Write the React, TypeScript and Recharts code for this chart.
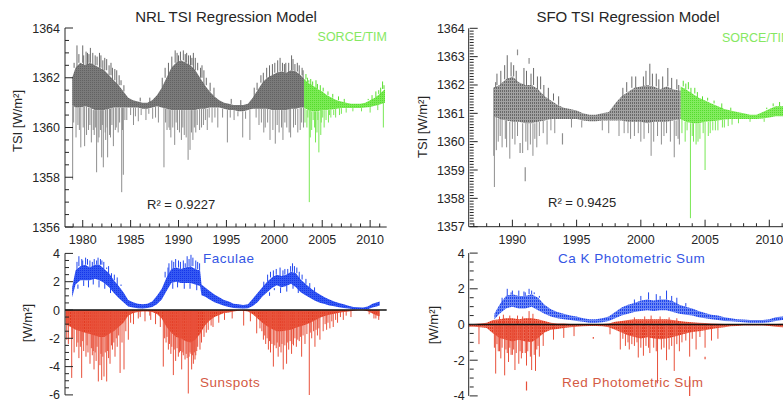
import React from "react";
import { ComposedChart, Area, Line, XAxis, YAxis, ReferenceLine } from "recharts";

const FONT = '"Liberation Sans", Arial, Helvetica, sans-serif';
const INK = "#262626";
const GRAY_UP = "#6a6a6a";
const GRAY_SPK = "#8e8e8e";
const GREEN_UP = "#5ade30";
const GREEN_SPK = "#78e854";
const BLUE = "#2248ee";
const RED_SPK = "#e8503a";

// ---------- NRL TSI regression (top left) ----------
const nrlYears = [1978.9, 1979.25, 1979.75, 1980.25, 1980.75, 1981.25, 1981.75, 1982.25, 1982.75, 1983.25, 1983.75, 1984.25, 1984.75, 1985.25, 1985.75, 1986.25, 1986.75, 1987.25, 1987.75, 1988.25, 1988.75, 1989.25, 1989.75, 1990.25, 1990.75, 1991.25, 1991.75, 1992.25, 1992.75, 1993.25, 1993.75, 1994.25, 1994.75, 1995.25, 1995.75, 1996.25, 1996.75, 1997.25, 1997.75, 1998.25, 1998.75, 1999.25, 1999.75, 2000.25, 2000.75, 2001.25, 2001.75, 2002.25, 2002.75, 2003.1];
const nrlHi = [1362.0, 1362.4, 1362.6, 1362.5, 1362.6, 1362.5, 1362.4, 1362.3, 1362.1, 1361.9, 1361.7, 1361.45, 1361.2, 1361.1, 1361.05, 1361.0, 1361.0, 1361.1, 1361.3, 1361.6, 1362.0, 1362.4, 1362.6, 1362.7, 1362.6, 1362.5, 1362.3, 1362.0, 1361.7, 1361.45, 1361.25, 1361.1, 1361.0, 1360.95, 1360.9, 1360.9, 1360.9, 1360.95, 1361.2, 1361.5, 1361.8, 1362.0, 1362.1, 1362.2, 1362.25, 1362.2, 1362.3, 1362.25, 1362.1, 1361.95];
const nrlLo = [1360.9, 1360.8, 1360.8, 1360.85, 1360.8, 1360.7, 1360.7, 1360.7, 1360.75, 1360.8, 1360.8, 1360.8, 1360.8, 1360.8, 1360.8, 1360.75, 1360.75, 1360.8, 1360.85, 1360.8, 1360.75, 1360.7, 1360.7, 1360.7, 1360.7, 1360.7, 1360.7, 1360.75, 1360.75, 1360.8, 1360.8, 1360.8, 1360.75, 1360.7, 1360.7, 1360.65, 1360.65, 1360.7, 1360.75, 1360.75, 1360.75, 1360.75, 1360.7, 1360.7, 1360.7, 1360.7, 1360.75, 1360.75, 1360.8, 1360.8];
const nrlSpikes = [
  [1978.95, 1357.9], [1979.05, 1360.2], [1979.1, 1362.6], [1979.3, 1359.6], [1979.4, 1363.3], [1979.5, 1360.1], [1979.6, 1362.95], [1979.65, 1359.9], [1979.8, 1359.2], [1980.0, 1363.3], [1980.05, 1360.0], [1980.1, 1362.9], [1980.2, 1359.25], [1980.35, 1363.05], [1980.4, 1359.7], [1980.5, 1363.0], [1980.6, 1359.9], [1980.65, 1362.95], [1980.75, 1360.1], [1980.8, 1363.2], [1980.9, 1359.4], [1981.05, 1363.0], [1981.1, 1359.9], [1981.2, 1359.7], [1981.3, 1362.9], [1981.35, 1360.0], [1981.45, 1358.2], [1981.5, 1362.85], [1981.6, 1359.4], [1981.7, 1359.6], [1981.75, 1363.0], [1981.85, 1359.9], [1981.9, 1362.9], [1981.98, 1358.8], [1982.05, 1360.1], [1982.1, 1362.7], [1982.15, 1358.4], [1982.3, 1362.8], [1982.35, 1359.8], [1982.4, 1359.5], [1982.5, 1362.75], [1982.55, 1360.0], [1982.6, 1358.8], [1982.75, 1362.5], [1982.8, 1359.7], [1982.9, 1359.6], [1982.95, 1362.6], [1983.05, 1360.1], [1983.1, 1362.4], [1983.2, 1359.25], [1983.35, 1362.35], [1983.4, 1359.9], [1983.5, 1360.0], [1983.55, 1362.3], [1983.7, 1359.8], [1983.8, 1362.1], [1983.85, 1360.2], [1984.0, 1361.9], [1984.07, 1357.4], [1984.15, 1359.9], [1984.24, 1358.1], [1984.3, 1361.7], [1984.4, 1360.3], [1984.6, 1360.3],
  [1985.0, 1360.5], [1985.3, 1360.1], [1985.5, 1360.45], [1985.8, 1360.25], [1986.0, 1361.2], [1986.1, 1360.5], [1986.6, 1360.3], [1986.9, 1360.55], [1987.0, 1361.2], [1987.3, 1360.35], [1987.6, 1360.4], [1987.9, 1360.2],
  [1988.3, 1362.0], [1988.48, 1358.4], [1988.6, 1362.4], [1988.65, 1360.2], [1988.8, 1359.9], [1988.95, 1362.6], [1989.0, 1360.0], [1989.1, 1359.9], [1989.2, 1359.6], [1989.3, 1362.85], [1989.4, 1360.0], [1989.6, 1359.3], [1989.65, 1363.1], [1989.75, 1360.2], [1989.85, 1363.0], [1989.9, 1359.9], [1990.0, 1362.9], [1990.1, 1359.8], [1990.2, 1363.05], [1990.3, 1359.5], [1990.45, 1360.0], [1990.5, 1363.1], [1990.6, 1359.7], [1990.7, 1362.95], [1990.8, 1359.6], [1990.85, 1363.0], [1991.0, 1358.7], [1991.05, 1362.9], [1991.2, 1359.1], [1991.25, 1362.9], [1991.35, 1359.8], [1991.4, 1362.8], [1991.5, 1359.5], [1991.55, 1363.0], [1991.65, 1360.0], [1991.75, 1362.8], [1991.8, 1359.8], [1991.95, 1360.1], [1992.0, 1362.6], [1992.2, 1359.9], [1992.3, 1362.4], [1992.4, 1360.0], [1992.45, 1362.5], [1992.6, 1360.1], [1992.65, 1362.3], [1992.8, 1360.3], [1992.9, 1362.0], [1993.0, 1359.9], [1993.2, 1360.4], [1993.3, 1361.8], [1993.5, 1360.2], [1993.7, 1361.6], [1993.8, 1360.4],
  [1994.1, 1360.0], [1994.6, 1360.4], [1995.1, 1359.4], [1995.4, 1360.4], [1995.5, 1361.15], [1995.8, 1360.3], [1996.2, 1360.45], [1996.5, 1361.1], [1996.7, 1359.6], [1997.0, 1360.35], [1997.45, 1359.5],
  [1997.9, 1361.6], [1998.1, 1360.4], [1998.2, 1361.8], [1998.4, 1360.1], [1998.6, 1362.1], [1998.65, 1360.2], [1998.85, 1362.2], [1998.9, 1359.8], [1999.05, 1360.0], [1999.2, 1362.4], [1999.3, 1360.2], [1999.5, 1362.5], [1999.55, 1359.5], [1999.8, 1362.55], [1999.85, 1359.9], [2000.05, 1362.6], [2000.1, 1359.35], [2000.3, 1360.1], [2000.35, 1362.7], [2000.5, 1359.8], [2000.6, 1362.8], [2000.75, 1360.0], [2000.85, 1362.6], [2000.9, 1359.5], [2001.05, 1362.55], [2001.1, 1360.2], [2001.2, 1362.6], [2001.3, 1360.0], [2001.5, 1362.6], [2001.55, 1359.8], [2001.7, 1359.6], [2001.8, 1362.9], [2001.95, 1362.75], [2002.0, 1360.0], [2002.15, 1362.55], [2002.2, 1360.1], [2002.4, 1362.6], [2002.45, 1359.8], [2002.6, 1362.5], [2002.7, 1359.9], [2002.85, 1360.2], [2002.9, 1362.4], [2003.0, 1362.3], [2003.05, 1360.0],
];

const nrlTimYears = [2003.1, 2003.5, 2004.0, 2004.5, 2005.0, 2005.5, 2006.0, 2006.5, 2007.0, 2007.5, 2008.0, 2008.5, 2009.0, 2009.5, 2010.0, 2010.5, 2011.0, 2011.55];
const nrlTimHi = [1361.95, 1361.8, 1361.7, 1361.55, 1361.45, 1361.3, 1361.2, 1361.1, 1361.05, 1361.0, 1360.95, 1360.95, 1360.95, 1361.0, 1361.1, 1361.2, 1361.35, 1361.55];
const nrlTimLo = [1360.8, 1360.7, 1360.65, 1360.65, 1360.7, 1360.7, 1360.72, 1360.75, 1360.78, 1360.78, 1360.78, 1360.78, 1360.78, 1360.8, 1360.82, 1360.87, 1360.92, 1361.0];
const nrlTimSpikes = [[2003.2, 1361.95], [2003.2, 1360.2], [2003.3, 1362.15], [2003.4, 1360.0], [2003.45, 1362.0], [2003.5, 1360.4], [2003.6, 1361.9], [2003.65, 1357.0], [2003.75, 1359.6], [2003.8, 1361.95], [2003.9, 1359.9], [2004.0, 1361.85], [2004.05, 1360.3], [2004.2, 1360.0], [2004.3, 1359.4], [2004.35, 1361.9], [2004.45, 1359.8], [2004.5, 1361.75], [2004.55, 1360.3], [2004.65, 1359.0], [2004.8, 1361.7], [2004.85, 1359.7], [2004.9, 1360.2], [2005.05, 1360.4], [2005.1, 1361.6], [2005.2, 1360.0], [2005.4, 1360.3], [2005.6, 1361.45], [2005.65, 1360.2], [2005.75, 1360.5], [2005.9, 1360.4], [2006.1, 1361.35], [2006.2, 1360.5], [2006.4, 1360.4], [2006.7, 1361.25], [2006.8, 1360.5], [2007.0, 1360.55], [2007.3, 1361.15], [2007.5, 1360.6], [2008.2, 1360.65], [2009.1, 1360.65], [2009.8, 1361.15], [2010.0, 1360.6], [2010.2, 1361.3], [2010.6, 1361.45], [2010.8, 1360.7], [2010.9, 1361.5], [2011.1, 1361.6], [2011.3, 1361.85], [2011.38, 1360.0], [2011.45, 1361.7]];

// ---------- SFO TSI regression (top right) ----------
const sfoYears = [1988.5, 1989.0, 1989.5, 1990.0, 1990.5, 1991.0, 1991.5, 1992.0, 1992.5, 1993.0, 1993.5, 1994.0, 1994.5, 1995.0, 1995.5, 1996.0, 1996.5, 1997.0, 1997.5, 1998.0, 1998.5, 1999.0, 1999.5, 2000.0, 2000.5, 2001.0, 2001.5, 2002.0, 2002.5, 2003.1];
const sfoHi = [1361.9, 1362.0, 1362.2, 1362.3, 1362.1, 1362.0, 1362.0, 1361.85, 1361.6, 1361.45, 1361.3, 1361.2, 1361.15, 1361.1, 1361.0, 1360.95, 1360.95, 1361.0, 1361.05, 1361.35, 1361.6, 1361.75, 1361.9, 1361.95, 1362.0, 1361.95, 1361.85, 1361.95, 1361.85, 1361.8];
const sfoLo = [1360.9, 1360.8, 1360.75, 1360.7, 1360.7, 1360.65, 1360.65, 1360.7, 1360.75, 1360.8, 1360.8, 1360.8, 1360.8, 1360.8, 1360.75, 1360.72, 1360.72, 1360.75, 1360.75, 1360.75, 1360.75, 1360.7, 1360.7, 1360.7, 1360.65, 1360.7, 1360.7, 1360.7, 1360.75, 1360.8];
const sfoSpikes = [[1988.55, 1359.5], [1988.6, 1358.4], [1988.7, 1362.1], [1988.75, 1359.7], [1988.8, 1362.4], [1988.9, 1360.0], [1989.05, 1360.2], [1989.1, 1362.5], [1989.2, 1359.8], [1989.4, 1362.7], [1989.45, 1360.1], [1989.55, 1359.8], [1989.6, 1363.05], [1989.8, 1359.4], [1989.9, 1362.8], [1990.0, 1360.1], [1990.1, 1362.7], [1990.2, 1359.9], [1990.3, 1362.5], [1990.4, 1360.2], [1990.8, 1359.6], [1990.9, 1362.6], [1991.05, 1360.0], [1991.1, 1362.5], [1991.2, 1359.7], [1991.4, 1359.9], [1991.45, 1362.4], [1991.6, 1359.5], [1991.65, 1362.6], [1991.75, 1360.1], [1991.9, 1359.8], [1991.95, 1362.3], [1992.1, 1360.2], [1992.2, 1362.3], [1992.4, 1360.3], [1992.45, 1362.0], [1992.7, 1359.9], [1992.8, 1361.9], [1993.0, 1360.4], [1993.2, 1361.7], [1993.3, 1360.3], [1993.6, 1361.6], [1994.6, 1360.5], [1995.4, 1360.5], [1997.0, 1360.4], [1997.5, 1360.3], [1998.3, 1360.2], [1998.6, 1361.9], [1998.7, 1360.3], [1998.9, 1362.1], [1999.0, 1360.3], [1999.2, 1360.1], [1999.3, 1362.3], [1999.5, 1360.2], [1999.6, 1362.3], [1999.8, 1360.3], [2000.0, 1360.0], [2000.2, 1362.3], [2000.25, 1360.1], [2000.4, 1362.5], [2000.6, 1360.3], [2000.7, 1362.75], [2000.8, 1359.5], [2000.9, 1362.4], [2001.0, 1360.0], [2001.2, 1362.4], [2001.3, 1360.2], [2001.4, 1362.2], [2001.6, 1359.9], [2001.7, 1362.3], [2001.8, 1360.2], [2002.0, 1360.3], [2002.1, 1362.6], [2002.3, 1360.0], [2002.4, 1362.25], [2002.6, 1359.45], [2002.75, 1360.2], [2002.8, 1362.2], [2002.9, 1360.1], [2002.95, 1362.0], [2003.0, 1359.9]];
const sfoDashes = [[1990.4, 1363.05, 1363.25], [1991.0, 1359.1, 1358.6], [1991.3, 1362.75, 1362.95], [1990.6, 1359.95, 1359.6], [1993.9, 1360.3, 1359.9]];

const sfoTimYears = [2003.1, 2003.5, 2004.0, 2004.5, 2005.0, 2005.5, 2006.0, 2006.5, 2007.0, 2007.5, 2008.0, 2008.5, 2009.0, 2009.5, 2010.0, 2010.5, 2011.0, 2011.5];
const sfoTimHi = [1361.95, 1361.85, 1361.7, 1361.55, 1361.45, 1361.35, 1361.25, 1361.15, 1361.1, 1361.05, 1361.0, 1360.95, 1360.95, 1361.05, 1361.15, 1361.25, 1361.25, 1361.25];
const sfoTimLo = [1360.8, 1360.7, 1360.65, 1360.65, 1360.7, 1360.72, 1360.75, 1360.78, 1360.8, 1360.8, 1360.8, 1360.8, 1360.8, 1360.82, 1360.85, 1360.9, 1360.9, 1360.9];
const sfoTimSpikes = [[2003.2, 1361.9], [2003.2, 1360.3], [2003.3, 1362.15], [2003.45, 1360.0], [2003.5, 1362.05], [2003.6, 1360.4], [2003.7, 1362.1], [2003.86, 1357.3], [2003.9, 1361.9], [2004.0, 1360.2], [2004.1, 1360.0], [2004.2, 1361.9], [2004.3, 1359.9], [2004.4, 1361.75], [2004.45, 1360.0], [2004.6, 1360.1], [2004.8, 1361.6], [2004.85, 1360.3], [2005.0, 1359.0], [2005.2, 1361.55], [2005.25, 1360.2], [2005.4, 1360.3], [2005.6, 1360.4], [2005.7, 1361.45], [2005.8, 1360.4], [2006.0, 1360.4], [2006.3, 1361.35], [2006.35, 1360.5], [2006.5, 1360.5], [2006.8, 1360.55], [2007.0, 1361.2], [2007.1, 1360.6], [2007.6, 1360.65], [2008.5, 1360.7], [2009.6, 1360.7], [2009.8, 1361.2], [2010.3, 1361.35], [2010.8, 1361.4]];

// ---------- Faculae / Sunspots (bottom left) ----------
const facYears = [1978.9, 1979.25, 1979.75, 1980.25, 1980.75, 1981.25, 1981.75, 1982.25, 1982.75, 1983.25, 1983.75, 1984.25, 1984.75, 1985.25, 1985.75, 1986.25, 1986.75, 1987.25, 1987.75, 1988.25, 1988.75, 1989.25, 1989.75, 1990.25, 1990.75, 1991.25, 1991.75, 1992.25, 1992.4, 1992.75, 1993.25, 1993.75, 1994.25, 1994.75, 1995.25, 1995.75, 1996.25, 1996.75, 1997.25, 1997.75, 1998.25, 1998.75, 1999.25, 1999.75, 2000.25, 2000.75, 2001.25, 2001.75, 2002.25, 2002.75, 2003.25, 2003.75, 2004.25, 2004.75, 2005.25, 2005.75, 2006.25, 2006.75, 2007.25, 2007.75, 2008.25, 2008.75, 2009.25, 2009.75, 2010.25, 2010.75, 2011.0];
const facHi = [1.6, 2.8, 3.1, 3.2, 3.0, 3.2, 3.2, 2.9, 2.6, 2.1, 1.7, 1.25, 0.7, 0.55, 0.45, 0.4, 0.45, 0.6, 1.0, 1.5, 2.3, 2.9, 3.0, 2.9, 3.0, 3.1, 2.9, 2.8, 1.8, 1.6, 1.35, 1.1, 0.9, 0.7, 0.6, 0.45, 0.4, 0.35, 0.4, 0.8, 1.2, 1.6, 2.0, 2.3, 2.5, 2.4, 2.5, 2.7, 2.6, 2.15, 1.85, 1.55, 1.3, 1.1, 0.9, 0.75, 0.6, 0.5, 0.4, 0.3, 0.22, 0.2, 0.17, 0.25, 0.45, 0.55, 0.6];
const facLo = [0.9, 1.8, 2.1, 2.1, 2.1, 2.2, 2.1, 1.9, 1.6, 1.2, 0.85, 0.55, 0.25, 0.18, 0.12, 0.1, 0.15, 0.22, 0.4, 0.75, 1.35, 1.9, 2.0, 1.9, 1.9, 1.9, 1.8, 1.7, 1.05, 0.95, 0.75, 0.55, 0.42, 0.3, 0.22, 0.15, 0.12, 0.1, 0.12, 0.28, 0.55, 0.95, 1.25, 1.55, 1.75, 1.6, 1.7, 1.85, 1.6, 1.25, 1.05, 0.85, 0.65, 0.52, 0.42, 0.32, 0.26, 0.2, 0.15, 0.1, 0.06, 0.05, 0.05, 0.06, 0.17, 0.27, 0.32];
const facSpikes = [[1979.4, 3.4], [1979.5, 1.5], [1979.6, 3.8], [1979.9, 3.6], [1980.0, 3.5], [1980.1, 1.7], [1980.3, 3.7], [1980.5, 3.6], [1980.6, 1.6], [1980.75, 3.5], [1981.0, 3.4], [1981.1, 1.8], [1981.2, 3.6], [1981.45, 3.5], [1981.6, 3.7], [1981.7, 1.6], [1981.85, 3.6], [1982.0, 3.5], [1982.2, 3.4], [1982.3, 1.5], [1982.5, 3.0], [1982.7, 3.1], [1982.9, 1.2], [1983.0, 2.6], [1983.3, 2.5], [1983.6, 2.3], [1984.0, 1.8], [1988.6, 2.7], [1988.9, 3.0], [1989.0, 3.3], [1989.3, 3.5], [1989.4, 1.5], [1989.5, 3.4], [1989.7, 3.6], [1989.9, 1.6], [1990.0, 3.5], [1990.2, 3.4], [1990.5, 3.5], [1990.6, 1.5], [1990.7, 3.3], [1990.9, 3.8], [1991.1, 3.6], [1991.2, 1.5], [1991.3, 3.9], [1991.5, 3.7], [1991.8, 3.5], [1991.9, 1.4], [1992.0, 3.4], [1992.2, 3.3], [1998.9, 2.0], [1999.3, 2.5], [1999.5, 1.0], [1999.6, 2.7], [1999.9, 2.8], [2000.0, 1.4], [2000.2, 2.9], [2000.6, 3.0], [2000.65, 1.2], [2000.9, 2.8], [2001.1, 2.9], [2001.3, 1.3], [2001.4, 2.9], [2001.7, 3.1], [2001.9, 3.3], [2001.95, 1.5], [2002.1, 3.1], [2002.35, 3.0], [2002.5, 1.2], [2002.6, 2.7], [2002.9, 2.5], [2003.3, 2.2], [2003.7, 1.9], [2004.2, 1.6]];

const spotYears = [1978.2, 1978.75, 1979.25, 1979.75, 1980.25, 1980.75, 1981.25, 1981.75, 1982.25, 1982.75, 1983.25, 1983.75, 1984.25, 1984.75, 1985.25, 1985.75, 1986.25, 1986.75, 1987.25, 1987.75, 1988.25, 1988.75, 1989.25, 1989.75, 1990.25, 1990.75, 1991.25, 1991.75, 1992.25, 1992.75, 1993.25, 1993.75, 1994.25, 1994.75, 1995.25, 1995.75, 1996.25, 1996.75, 1997.25, 1997.75, 1998.25, 1998.75, 1999.25, 1999.75, 2000.25, 2000.75, 2001.25, 2001.75, 2002.25, 2002.75, 2003.25, 2003.75, 2004.25, 2004.75, 2005.25, 2005.75, 2006.25, 2006.75, 2007.25, 2007.75, 2008.25, 2008.75, 2009.25, 2009.75, 2010.25, 2010.75, 2011.0];
const spotLo = [-1.0, -1.2, -1.4, -1.5, -1.6, -1.7, -1.8, -1.9, -1.9, -1.7, -1.5, -1.2, -0.9, -0.4, -0.22, -0.14, -0.1, -0.1, -0.14, -0.28, -0.6, -1.2, -1.6, -1.9, -2.0, -2.2, -2.3, -2.1, -1.7, -1.1, -0.75, -0.5, -0.35, -0.22, -0.18, -0.1, -0.05, -0.05, -0.1, -0.3, -0.6, -0.9, -1.15, -1.35, -1.5, -1.5, -1.45, -1.4, -1.25, -1.15, -1.05, -0.9, -0.72, -0.55, -0.42, -0.33, -0.26, -0.2, -0.14, -0.1, -0.05, -0.02, -0.02, -0.08, -0.25, -0.4, -0.45];
const spotSpikes = [[1978.33, -2.1], [1978.5, -2.4], [1978.85, -4.8], [1978.95, -2.0], [1979.1, -3.0], [1979.37, -2.6], [1979.5, -2.3], [1979.6, -3.4], [1979.75, -2.6], [1979.89, -4.8], [1980.0, -2.2], [1980.1, -2.9], [1980.34, -3.3], [1980.45, -2.5], [1980.55, -3.0], [1980.76, -3.8], [1980.9, -2.7], [1981.0, -3.2], [1981.1, -2.9], [1981.18, -4.2], [1981.3, -3.0], [1981.4, -3.6], [1981.5, -2.6], [1981.63, -5.05], [1981.8, -3.9], [1981.9, -3.1], [1981.98, -4.95], [1982.1, -3.3], [1982.22, -4.7], [1982.35, -3.0], [1982.5, -5.05], [1982.6, -2.9], [1982.7, -3.4], [1982.85, -3.8], [1983.0, -2.5], [1983.1, -2.8], [1983.25, -2.3], [1983.37, -3.3], [1983.5, -2.0], [1983.6, -2.6], [1983.75, -1.8], [1983.9, -4.45], [1984.1, -2.3], [1984.31, -4.2], [1984.5, -1.5], [1984.76, -2.1], [1985.0, -0.9], [1985.3, -1.0], [1985.8, -0.6], [1986.0, -0.5], [1986.5, -0.8], [1987.0, -0.4], [1987.1, -0.7], [1987.6, -1.0],
  [1988.1, -1.2], [1988.41, -4.0], [1988.55, -2.0], [1988.7, -2.3], [1988.8, -1.9], [1988.94, -2.8], [1989.05, -2.4], [1989.2, -3.1], [1989.3, -2.6], [1989.46, -4.6], [1989.55, -2.8], [1989.7, -3.6], [1989.85, -2.7], [1989.98, -3.3], [1990.1, -3.0], [1990.2, -2.9], [1990.33, -4.2], [1990.45, -3.0], [1990.5, -3.2], [1990.68, -3.5], [1990.8, -3.1], [1990.9, -3.4], [1991.02, -5.9], [1991.1, -3.3], [1991.2, -3.0], [1991.3, -3.1], [1991.37, -4.2], [1991.45, -3.2], [1991.55, -3.8], [1991.65, -3.0], [1991.72, -3.5], [1991.8, -3.2], [1991.9, -2.9], [1992.0, -2.6], [1992.24, -2.8], [1992.4, -2.3], [1992.66, -1.9], [1992.9, -1.6], [1993.1, -1.4], [1993.4, -1.1], [1993.6, -1.2], [1994.2, -0.9], [1994.8, -0.7], [1995.6, -0.6], [1996.8, -1.1], [1997.5, -0.8],
  [1998.16, -1.65], [1998.5, -1.3], [1998.7, -1.5], [1998.86, -2.1], [1999.0, -1.8], [1999.1, -2.4], [1999.25, -2.0], [1999.38, -2.8], [1999.5, -2.2], [1999.6, -3.0], [1999.75, -2.4], [1999.9, -4.0], [2000.05, -2.5], [2000.2, -2.7], [2000.3, -2.3], [2000.4, -3.3], [2000.55, -2.6], [2000.7, -3.0], [2000.8, -2.4], [2000.93, -4.2], [2001.1, -2.5], [2001.28, -3.8], [2001.4, -2.3], [2001.5, -2.8], [2001.65, -2.2], [2001.8, -3.1], [2001.95, -2.4], [2002.0, -2.5], [2002.15, -2.0], [2002.3, -2.6], [2002.45, -2.1], [2002.6, -2.2], [2002.75, -1.9], [2002.85, -3.3], [2003.0, -1.8], [2003.2, -2.4], [2003.4, -1.7], [2003.65, -6.1], [2003.75, -1.6], [2003.9, -2.0], [2004.1, -1.5], [2004.24, -2.6], [2004.35, -1.4], [2004.5, -1.8], [2004.65, -1.3], [2004.76, -2.1], [2005.1, -1.5], [2005.3, -1.0], [2005.46, -1.4], [2005.6, -0.9], [2005.8, -1.3], [2006.0, -0.8], [2006.15, -1.2], [2006.4, -0.7], [2006.6, -0.9], [2006.9, -0.5], [2007.2, -0.7], [2007.5, -0.4], [2008.0, -0.5], [2009.9, -0.3], [2010.4, -0.6], [2010.6, -0.6], [2010.9, -0.7]];

// ---------- Ca K / Red photometric sums (bottom right) ----------
const cakYears = [1988.6, 1989.0, 1989.5, 1990.0, 1990.5, 1991.0, 1991.5, 1992.0, 1992.5, 1993.0, 1993.5, 1994.0, 1994.5, 1995.0, 1995.5, 1996.0, 1996.5, 1997.0, 1997.5, 1998.0, 1998.5, 1999.0, 1999.5, 2000.0, 2000.5, 2001.0, 2001.5, 2002.0, 2002.5, 2003.0, 2003.5, 2004.0, 2004.5, 2005.0, 2005.5, 2006.0, 2006.5, 2007.0, 2007.5, 2008.0, 2008.5, 2009.0, 2009.5, 2010.0, 2010.5, 2011.0, 2011.5];
const cakHi = [0.6, 1.1, 1.6, 1.7, 1.6, 1.6, 1.7, 1.5, 1.1, 0.85, 0.7, 0.6, 0.5, 0.45, 0.35, 0.3, 0.3, 0.35, 0.45, 0.7, 0.95, 1.1, 1.2, 1.35, 1.4, 1.35, 1.4, 1.4, 1.3, 1.1, 1.0, 0.9, 0.75, 0.65, 0.55, 0.5, 0.4, 0.35, 0.3, 0.28, 0.25, 0.25, 0.25, 0.3, 0.4, 0.45, 0.45];
const cakLo = [0.3, 0.6, 0.9, 1.0, 0.9, 0.9, 1.0, 0.8, 0.6, 0.45, 0.35, 0.3, 0.25, 0.2, 0.15, 0.1, 0.1, 0.12, 0.2, 0.35, 0.5, 0.6, 0.7, 0.75, 0.8, 0.75, 0.8, 0.8, 0.7, 0.6, 0.55, 0.5, 0.4, 0.35, 0.3, 0.25, 0.2, 0.18, 0.15, 0.12, 0.1, 0.1, 0.1, 0.12, 0.2, 0.25, 0.25];
const cakSpikes = [[1989.2, 1.5], [1989.6, 2.0], [1989.9, 1.8], [1990.0, 1.9], [1990.5, 1.9], [1990.9, 1.85], [1991.0, 1.8], [1991.3, 2.0], [1991.5, 1.9], [1991.7, 1.8], [1992.1, 1.6], [1999.5, 1.4], [2000.0, 1.6], [2000.6, 1.8], [2001.2, 1.7], [2001.5, 1.6], [2002.0, 1.9], [2002.4, 1.6], [2002.8, 1.5], [2003.5, 1.2]];

const redYears = [1986.6, 1987.0, 1987.5, 1988.0, 1988.5, 1989.0, 1989.5, 1990.0, 1990.5, 1991.0, 1991.5, 1992.0, 1992.5, 1993.0, 1993.5, 1994.0, 1994.5, 1995.0, 1995.5, 1996.0, 1996.5, 1997.0, 1997.5, 1998.0, 1998.5, 1999.0, 1999.5, 2000.0, 2000.5, 2001.0, 2001.5, 2002.0, 2002.5, 2003.0, 2003.5, 2004.0, 2004.5, 2005.0, 2005.5, 2006.0, 2006.5, 2007.0, 2007.5, 2008.0, 2008.5, 2009.0, 2009.5, 2010.0, 2010.5, 2011.0, 2011.5];
const redHi = [0.02, 0.03, 0.05, 0.1, 0.25, 0.3, 0.35, 0.35, 0.3, 0.35, 0.35, 0.3, 0.2, 0.1, 0.05, 0.05, 0.03, 0.02, 0.02, 0.02, 0.02, 0.03, 0.05, 0.15, 0.2, 0.25, 0.3, 0.3, 0.3, 0.3, 0.3, 0.3, 0.25, 0.2, 0.15, 0.12, 0.1, 0.08, 0.05, 0.04, 0.03, 0.02, 0.02, 0.01, 0.01, 0.01, 0.01, 0.02, 0.03, 0.04, 0.04];
const redLo = [-0.12, -0.12, -0.15, -0.2, -0.5, -0.75, -0.85, -0.95, -0.85, -0.95, -1.0, -0.75, -0.45, -0.3, -0.25, -0.2, -0.16, -0.12, -0.1, -0.08, -0.08, -0.1, -0.16, -0.3, -0.45, -0.6, -0.7, -0.78, -0.72, -0.78, -0.82, -0.78, -0.7, -0.6, -0.5, -0.42, -0.38, -0.32, -0.25, -0.2, -0.16, -0.1, -0.08, -0.06, -0.05, -0.05, -0.06, -0.08, -0.12, -0.16, -0.16];
const redSpikes = [[1987.4, -1.1], [1988.6, -1.3], [1988.7, -2.75], [1988.8, -1.1], [1988.9, -1.5], [1989.0, -1.5], [1989.0, 0.45], [1989.1, -1.9], [1989.2, -1.3], [1989.3, 0.55], [1989.4, -2.85], [1989.5, -1.4], [1989.6, -1.6], [1989.7, -2.1], [1989.8, 0.5], [1989.8, -1.3], [1989.9, -1.7], [1990.0, -1.7], [1990.1, -1.4], [1990.2, -2.55], [1990.3, -1.6], [1990.4, 0.5], [1990.5, -2.2], [1990.6, -1.5], [1990.7, -1.9], [1990.8, -1.6], [1990.8, 0.45], [1991.0, -1.6], [1991.1, -2.3], [1991.2, -1.5], [1991.3, 0.75], [1991.4, -1.8], [1991.5, -2.55], [1991.6, 0.6], [1991.7, -1.7], [1991.8, -2.6], [1991.9, -1.4], [1992.0, -1.2], [1992.1, -1.8], [1992.4, -1.2], [1993.2, -0.85], [1994.0, -0.75], [1994.8, -0.65], [1997.6, -0.55], [1998.4, -1.4], [1998.6, -0.8], [1998.8, -1.2], [1999.0, -1.0], [1999.1, -1.4], [1999.3, -1.1], [1999.5, -1.2], [1999.5, 0.4], [1999.7, -1.0], [1999.8, -1.85], [2000.0, -1.3], [2000.2, -1.75], [2000.3, 0.45], [2000.4, -1.2], [2000.6, -1.3], [2000.7, -1.6], [2000.8, 0.5], [2001.0, -1.3], [2001.2, -1.5], [2001.3, -3.3], [2001.5, 0.45], [2001.6, -1.4], [2001.8, -1.3], [2002.0, -2.0], [2002.2, -1.4], [2002.2, 0.4], [2002.4, -1.2], [2002.6, -2.6], [2002.8, -1.1], [2002.8, 0.35], [2003.0, -1.5], [2003.2, -1.0], [2003.5, -0.9], [2003.8, -1.8], [2004.0, -0.8], [2004.3, -1.4], [2004.6, -0.7], [2005.0, -1.3], [2005.5, -0.9], [2006.0, -0.8]];
const redDashes = [[1991.1, -3.2, -3.7], [2003.8, -2.9, -4.0], [1996.3, -0.7, -0.8], [2005.0, -1.8, -1.95]];

// ---------- axis ticks ----------
const nrlYMajor = [1356, 1358, 1360, 1362, 1364];
const sfoYMajor = [1357, 1358, 1359, 1360, 1361, 1362, 1363, 1364];
const facYMajor = [-6, -4, -2, 0, 2, 4];
const cakYMajor = [-4, -2, 0, 2, 4];
const yearMajor = [1980, 1985, 1990, 1995, 2000, 2005, 2010];

const steps = (a: number, b: number, s: number) => {
  const out: number[] = [];
  for (let v = a; v <= b + 1e-9; v += s) out.push(Math.round(v * 100) / 100);
  return out;
};

const toBand = (years: number[], hi: number[], lo: number[]) =>
  years.map((t, i) => ({ t, r: [lo[i], hi[i]] }));

function nearest(years: number[], t: number) {
  let k = 0;
  for (let i = 1; i < years.length; i++) if (Math.abs(years[i] - t) < Math.abs(years[k] - t)) k = i;
  return k;
}

// vertical strokes leaving the band edge; dir picks the ones above or below it
function spikesOffBand(list: number[][], years: number[], hi: number[], lo: number[], dir: "up" | "down") {
  const rows: any[] = [];
  list.forEach(([t, v]) => {
    const k = nearest(years, t);
    const up = v > hi[k];
    if ((dir === "up") !== up) return;
    rows.push({ t, v: up ? hi[k] : lo[k] }, { t, v }, { t, v: null });
  });
  return rows;
}

function spikesOffZero(list: number[][]) {
  const rows: any[] = [];
  list.forEach(([t, v]) => rows.push({ t, v: 0 }, { t, v }, { t, v: null }));
  return rows;
}

function dashes(list: number[][]) {
  const rows: any[] = [];
  list.forEach(([t, a, b]) => rows.push({ t, v: a }, { t, v: b }, { t, v: null }));
  return rows;
}

const isIn = (arr: number[], v: number) => arr.some((m) => Math.abs(m - v) < 1e-6);

const Y_GAP = 5;
const X_GAP = 8;

function yTick(majors: number[]) {
  return (p: any) => {
    const { x, y, payload } = p;
    const major = isIn(majors, payload.value);
    const ax = x + Y_GAP;
    return (
      <g>
        <line x1={ax} y1={y} x2={ax + (major ? 8 : 4)} y2={y} stroke={INK} strokeWidth={1} />
        {major && (
          <text x={x} y={y} dy="0.36em" textAnchor="end" fontSize={12.5} fontFamily={FONT} fill={INK}>
            {payload.value}
          </text>
        )}
      </g>
    );
  };
}

function xTick(majors: number[]) {
  return (p: any) => {
    const { x, y, payload } = p;
    const major = isIn(majors, payload.value);
    const ay = y - X_GAP;
    return (
      <g>
        <line x1={x} y1={ay} x2={x} y2={ay - (major ? 7 : 3.5)} stroke={INK} strokeWidth={1} />
        {major && (
          <text x={x} y={y} dy="0.71em" textAnchor="middle" fontSize={12.5} fontFamily={FONT} fill={INK}>
            {payload.value}
          </text>
        )}
      </g>
    );
  };
}

function Label({ x, y, size = 13, color = INK, anchor = "middle", rotate = false, spacing = 0, children }: any) {
  const tx = anchor === "start" ? "0" : anchor === "end" ? "-100%" : "-50%";
  return (
    <div
      style={{
        position: "absolute",
        left: x,
        top: y,
        fontSize: size,
        color,
        lineHeight: 1,
        whiteSpace: "nowrap",
        letterSpacing: spacing,
        transform: `translate(${tx}, -50%)${rotate ? " rotate(-90deg)" : ""}`,
      }}
    >
      {children}
    </div>
  );
}

// striped fills to mimic densely plotted daily values
function Stripes({ id, a, b, w = 2, h = 3 }: any) {
  return (
    <pattern id={id} width={w} height={h} patternUnits="userSpaceOnUse">
      <rect width={w} height={h} fill={b} />
      <rect width={1} height={h - 1} fill={a} />
    </pattern>
  );
}

const nrlDomain = [1978.15, 2011.73];
const sfoDomain = [1986.6, 2012.0];

const spikeLine = (data: any[], color: string, w = 1) => (
  <Line data={data} dataKey="v" stroke={color} strokeWidth={w} dot={false} isAnimationActive={false} />
);

export default function App() {
  return (
    <div style={{ position: "absolute", left: 0, top: 0, width: 783, height: 402, overflow: "hidden", background: "#fff", fontFamily: FONT, color: INK }}>
      {/* top left */}
      <div style={{ position: "absolute", left: 0, top: 0 }}>
        <ComposedChart width={400} height={262} margin={{ top: 28, right: 13.3, bottom: 0, left: 0 }}>
          <defs>
            <Stripes id="nrlGray" a="#626262" b="#7a7a7a" w={2} h={2} />
            <Stripes id="nrlGreen" a="#55dc2c" b="#7bea55" w={2} h={2} />
          </defs>
          <XAxis type="number" dataKey="t" domain={nrlDomain} allowDataOverflow ticks={steps(1979, 2011, 1)} interval={0}
            tick={xTick(yearMajor)} tickLine={false} tickSize={0} tickMargin={X_GAP} height={35} stroke={INK} />
          <YAxis type="number" domain={[1356, 1364]} allowDataOverflow ticks={steps(1356, 1364, 0.5)} interval={0}
            tick={yTick(nrlYMajor)} tickLine={false} tickSize={0} tickMargin={Y_GAP} width={65} stroke={INK} />
          {spikeLine(spikesOffBand(nrlSpikes, nrlYears, nrlHi, nrlLo, "down"), GRAY_SPK)}
          {spikeLine(spikesOffBand(nrlSpikes, nrlYears, nrlHi, nrlLo, "up"), GRAY_UP)}
          <Area data={toBand(nrlYears, nrlHi, nrlLo)} dataKey="r" type="linear" stroke="none" fill="url(#nrlGray)" fillOpacity={1} isAnimationActive={false} />
          {spikeLine(spikesOffBand(nrlTimSpikes, nrlTimYears, nrlTimHi, nrlTimLo, "down"), GREEN_SPK)}
          {spikeLine(spikesOffBand(nrlTimSpikes, nrlTimYears, nrlTimHi, nrlTimLo, "up"), GREEN_UP)}
          <Area data={toBand(nrlTimYears, nrlTimHi, nrlTimLo)} dataKey="r" type="linear" stroke="none" fill="url(#nrlGreen)" fillOpacity={1} isAnimationActive={false} />
        </ComposedChart>
      </div>

      {/* top right */}
      <div style={{ position: "absolute", left: 400, top: 0 }}>
        <ComposedChart width={410} height={262} margin={{ top: 28.3, right: 15, bottom: 0, left: 0 }}>
          <defs>
            <Stripes id="sfoGray" a="#686868" b="#a2a2a2" w={2} h={3} />
            <Stripes id="sfoGreen" a="#55dc2c" b="#84ec60" w={2} h={2} />
          </defs>
          <XAxis type="number" dataKey="t" domain={sfoDomain} allowDataOverflow ticks={steps(1987, 2012, 1)} interval={0}
            tick={xTick(yearMajor)} tickLine={false} tickSize={0} tickMargin={X_GAP} height={35.3} stroke={INK} />
          <YAxis type="number" domain={[1357, 1364]} allowDataOverflow ticks={steps(1357, 1364, 0.1)} interval={0}
            tick={yTick(sfoYMajor)} tickLine={false} tickSize={0} tickMargin={Y_GAP - 1} width={68.7} stroke={INK} />
          {spikeLine(spikesOffBand(sfoSpikes, sfoYears, sfoHi, sfoLo, "down"), GRAY_SPK)}
          {spikeLine(spikesOffBand(sfoSpikes, sfoYears, sfoHi, sfoLo, "up"), GRAY_UP)}
          {spikeLine(dashes(sfoDashes), GRAY_SPK, 1.2)}
          <Area data={toBand(sfoYears, sfoHi, sfoLo)} dataKey="r" type="linear" stroke="none" fill="url(#sfoGray)" fillOpacity={1} isAnimationActive={false} />
          {spikeLine(spikesOffBand(sfoTimSpikes, sfoTimYears, sfoTimHi, sfoTimLo, "down"), GREEN_SPK)}
          {spikeLine(spikesOffBand(sfoTimSpikes, sfoTimYears, sfoTimHi, sfoTimLo, "up"), GREEN_UP)}
          <Area data={toBand(sfoTimYears, sfoTimHi, sfoTimLo)} dataKey="r" type="linear" stroke="none" fill="url(#sfoGreen)" fillOpacity={1} isAnimationActive={false} />
        </ComposedChart>
      </div>

      {/* bottom left */}
      <div style={{ position: "absolute", left: 0, top: 240 }}>
        <ComposedChart width={400} height={162} margin={{ top: 13.4, right: 13.3, bottom: 7.1, left: 0 }}>
          <defs>
            <Stripes id="facBlue" a="#1436ea" b="#3558f2" w={2} h={2} />
            <Stripes id="spotRed" a="#e2361c" b="#e85a40" w={2} h={3} />
          </defs>
          <XAxis type="number" dataKey="t" domain={nrlDomain} allowDataOverflow hide />
          <YAxis type="number" domain={[-6, 4]} allowDataOverflow ticks={steps(-6, 4, 0.5)} interval={0}
            tick={yTick(facYMajor)} tickLine={false} tickSize={0} tickMargin={Y_GAP} width={65} stroke={INK} />
          {spikeLine(spikesOffZero(spotSpikes), RED_SPK)}
          <Area data={toBand(spotYears, spotYears.map(() => 0), spotLo)} dataKey="r" type="linear" stroke="none" fill="url(#spotRed)" fillOpacity={1} isAnimationActive={false} />
          {spikeLine(spikesOffBand(facSpikes, facYears, facHi, facLo, "down"), BLUE)}
          {spikeLine(spikesOffBand(facSpikes, facYears, facHi, facLo, "up"), BLUE)}
          <Area data={toBand(facYears, facHi, facLo)} dataKey="r" type="linear" stroke="none" fill="url(#facBlue)" fillOpacity={1} isAnimationActive={false} />
          <ReferenceLine y={0} stroke="#111" strokeWidth={1.5} />
        </ComposedChart>
      </div>

      {/* bottom right */}
      <div style={{ position: "absolute", left: 400, top: 240 }}>
        <ComposedChart width={410} height={162} margin={{ top: 13.1, right: 15, bottom: 6.1, left: 0 }}>
          <defs>
            <Stripes id="cakBlue" a="#1f44ee" b="#6a86f4" w={2} h={3} />
            <Stripes id="redRed" a="#e2361c" b="#ec6a55" w={2} h={3} />
          </defs>
          <XAxis type="number" dataKey="t" domain={sfoDomain} allowDataOverflow hide />
          <YAxis type="number" domain={[-4, 4]} allowDataOverflow ticks={steps(-4, 4, 0.5)} interval={0}
            tick={yTick(cakYMajor)} tickLine={false} tickSize={0} tickMargin={Y_GAP - 1} width={68.7} stroke={INK} />
          {spikeLine(spikesOffZero(redSpikes), RED_SPK)}
          {spikeLine(dashes(redDashes), RED_SPK, 1.2)}
          <Area data={toBand(redYears, redHi, redLo)} dataKey="r" type="linear" stroke="none" fill="url(#redRed)" fillOpacity={1} isAnimationActive={false} />
          {spikeLine(spikesOffBand(cakSpikes, cakYears, cakHi, cakLo, "up"), BLUE)}
          <Area data={toBand(cakYears, cakHi, cakLo)} dataKey="r" type="linear" stroke="none" fill="url(#cakBlue)" fillOpacity={1} isAnimationActive={false} />
          <ReferenceLine y={0} stroke="#111" strokeWidth={1.5} />
        </ComposedChart>
      </div>

      {/* text */}
      <Label x={226} y={16} size={15}>NRL TSI Regression Model</Label>
      <Label x={628} y={16} size={15}>SFO TSI Regression Model</Label>
      <Label x={387} y={37} size={12.5} color="#86e862" anchor="end">SORCE/TIM</Label>
      <Label x={722} y={38} size={12.5} color="#86e862" anchor="start">SORCE/TIM</Label>
      <Label x={147} y={204} size={13} anchor="start">R² = 0.9227</Label>
      <Label x={548} y={202} size={13} anchor="start">R² = 0.9425</Label>
      <Label x={17} y={121} size={13} rotate>TSI [W/m²]</Label>
      <Label x={422} y={127} size={13} rotate>TSI [W/m²]</Label>
      <Label x={27} y={323} size={13} rotate>[W/m²]</Label>
      <Label x={433} y={325} size={13} rotate>[W/m²]</Label>
      <Label x={203} y={259} size={13.5} color="#3556e4" anchor="start" spacing={0.5}>Faculae</Label>
      <Label x={200} y={383} size={13.5} color="#d45a44" anchor="start" spacing={0.5}>Sunspots</Label>
      <Label x={558} y={259} size={13.5} color="#3556e4" anchor="start" spacing={0.5}>Ca K Photometric Sum</Label>
      <Label x={562} y={383} size={13.5} color="#d45a44" anchor="start" spacing={0.5}>Red Photometric Sum</Label>
    </div>
  );
}
